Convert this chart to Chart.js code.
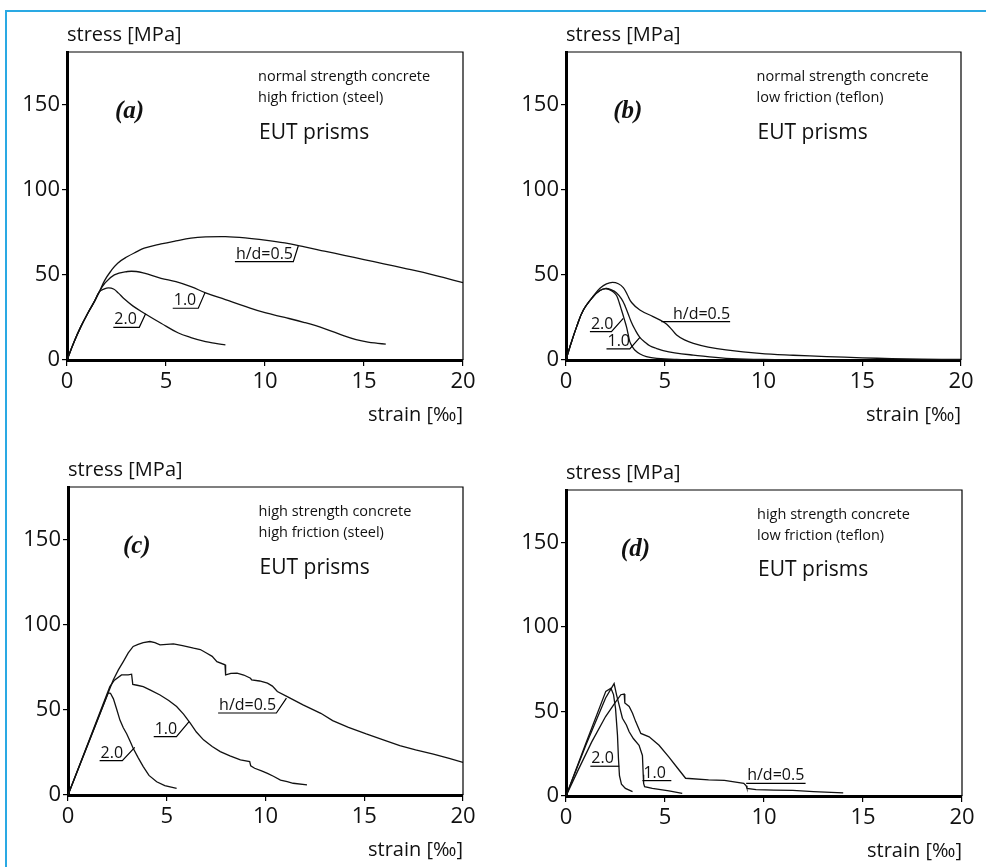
<!DOCTYPE html>
<html>
<head>
<meta charset="utf-8">
<script src="https://cdn.jsdelivr.net/npm/chart.js@4.4.1/dist/chart.umd.min.js"></script>
<style>
  body { margin: 0; background: #fff; }
  #page { position: relative; width: 986px; height: 867px; overflow: hidden; }
  #frame { position: absolute; left: 5px; top: 10px; width: 1000px; height: 900px;
           border-left: 2px solid #2aa9e3; border-top: 2px solid #2aa9e3; }
  canvas { position: absolute; }
</style>
</head>
<body>
<div id="page">
  <div id="frame"></div>
  <canvas id="chartA" width="493" height="434" style="left:0;top:0"></canvas>
  <canvas id="chartB" width="493" height="434" style="left:493px;top:0"></canvas>
  <canvas id="chartC" width="493" height="434" style="left:0;top:434px"></canvas>
  <canvas id="chartD" width="493" height="434" style="left:493px;top:434px"></canvas>
</div>
<script>
// axis ticks
const xTicks = [0, 5, 10, 15, 20];
const yTicks = [0, 50, 100, 150];

// (a) normal strength, high friction
const aStrain05 = [0, 0.35, 0.7, 1.05, 1.38, 1.63, 1.89, 2.2, 2.56, 3.06, 3.5, 3.9, 4.75, 5.5, 6.26, 7.0, 8.0, 9.0, 10.0, 11.0, 12.0, 13.0, 14.0, 15.0, 16.0, 17.0, 18.0, 19.0, 20.0];
const aStress05 = [0, 10.5, 19.6, 27.5, 34.3, 40, 46.5, 52, 56.9, 60.8, 63.5, 65.7, 68.2, 70, 71.6, 72.3, 72.5, 71.8, 70.5, 68.8, 66.5, 64, 61.5, 59, 56.5, 54, 51.5, 48.5, 45.5];
const aStrain10 = [0, 0.35, 0.7, 1.05, 1.38, 1.63, 1.89, 2.39, 3.06, 3.5, 3.9, 4.75, 5.5, 6.26, 7.0, 8.0, 9.0, 10.0, 11.0, 12.0, 13.0, 14.0, 14.6, 15.2, 15.7, 16.1];
const aStress10 = [0, 10.5, 19.6, 27.5, 34.3, 40, 44.8, 50, 52, 52, 51, 48, 46, 43.1, 39.5, 35.5, 31.5, 27.8, 25, 22, 18.5, 14.2, 12, 10.5, 9.8, 9.3];
const aStrain20 = [0, 0.35, 0.7, 1.05, 1.38, 1.63, 1.89, 2.1, 2.35, 2.6, 2.9, 3.32, 3.9, 4.75, 5.6, 6.26, 7.0, 7.5, 8.0];
const aStress20 = [0, 10.5, 19.6, 27.5, 34.3, 40, 41.8, 42.4, 41.7, 39.3, 35.8, 31.8, 27.5, 21.6, 16, 13.2, 10.8, 9.8, 8.9];

// (b) normal strength, low friction
const bStrain05 = [0, 0.2, 0.54, 0.88, 1.38, 1.72, 2.05, 2.35, 2.65, 2.9, 3.1, 3.32, 3.74, 4.41, 4.92, 5.1, 5.35, 5.6, 6.0, 6.45, 7.2, 8.1, 9.8, 11.5, 13.2, 15, 16.5, 18, 20];
const bStress05 = [0, 7.8, 19.6, 29.4, 37.5, 42.2, 44.7, 45.6, 44.8, 42.5, 38.5, 33.8, 29.4, 25.5, 22.5, 21, 18, 14.7, 11.8, 9.8, 7.6, 5.9, 3.9, 2.8, 2, 1.3, 0.8, 0.5, 0.3];
const bStrain10 = [0, 0.2, 0.54, 0.88, 1.38, 1.72, 2.0, 2.3, 2.55, 2.81, 3.0, 3.15, 3.3, 3.48, 3.74, 4.0, 4.24, 4.6, 4.92, 5.5, 6.44, 8.1, 10, 12];
const bStress10 = [0, 7.8, 19.6, 29.4, 37.3, 40.8, 42, 41.2, 39.5, 35.9, 31.5, 27, 22.5, 18.2, 13.3, 10.5, 8.4, 6.7, 5.5, 4.2, 2.9, 1, 0.3, 0];
const bStrain20 = [0, 0.2, 0.54, 0.88, 1.38, 1.72, 2.0, 2.22, 2.4, 2.56, 2.7, 2.81, 2.95, 3.06, 3.15, 3.23, 3.35, 3.48, 3.75, 4.07, 4.6, 5.6, 6.5];
const bStress20 = [0, 7.8, 19.6, 29.4, 37.3, 40.8, 42, 41.2, 40, 37.9, 33.5, 29.4, 24, 19.6, 15, 10.8, 8, 5.9, 3.5, 2, 1, 0.3, 0.1];

// (c) high strength, high friction
const cStrain05 = [0, 2.29, 2.55, 2.8, 3.05, 3.3, 3.55, 3.81, 4.15, 4.4, 4.66, 5.0, 5.34, 5.8, 6.36, 6.7, 7.03, 7.3, 7.54, 7.95, 7.98, 8.25, 8.56, 8.9, 9.24, 9.3, 9.7, 10.1, 10.35, 10.6, 11.1, 11.9, 12.8, 13.4, 14.2, 15.1, 16.0, 16.8, 17.6, 18.5, 19.3, 20];
const cStress05 = [0, 67.6, 73.5, 78.4, 83.5, 87.3, 88.5, 89.6, 90.2, 89.5, 88.2, 88.5, 88.8, 87.8, 86.3, 85.5, 83.3, 81.5, 78.4, 76.5, 70.6, 71.5, 71.6, 70.5, 68.6, 67.6, 67, 65.7, 64, 60.8, 57.8, 53, 48, 43.7, 39.8, 35.9, 32.3, 29, 26.5, 24, 21.5, 19.2];
const cStrain10 = [0, 2.12, 2.35, 2.71, 3.05, 3.22, 3.28, 3.5, 3.81, 4.2, 4.66, 5.1, 5.5, 5.85, 6.19, 6.5, 6.86, 7.3, 7.71, 8.2, 8.73, 9.2, 9.25, 9.45, 9.8, 10.1, 10.4, 10.76, 11.1, 11.4, 12.1];
const cStress10 = [0, 63.7, 67.5, 70.6, 70.6, 71, 65, 64.5, 63.7, 61.5, 58.8, 55.5, 52, 47.5, 42.2, 37, 32.4, 28.5, 25.5, 23, 20.6, 19.6, 17.2, 15.7, 14.2, 12.7, 11, 8.8, 7.8, 6.9, 5.9];
const cStrain20 = [0, 2.03, 2.15, 2.3, 2.45, 2.63, 2.8, 2.97, 3.15, 3.3, 3.55, 3.81, 4.1, 4.49, 4.9, 5.5];
const cStress20 = [0, 60, 59.8, 56.5, 51, 44, 39.5, 36, 31.5, 27.5, 22, 16.7, 11.5, 7.8, 5.5, 3.9];

// (d) high strength, low friction
const dStrain05 = [0, 0.6, 1.3, 2.0, 2.5, 2.77, 2.94, 2.97, 3.19, 3.36, 3.52, 3.78, 4.2, 4.7, 5.2, 5.6, 6.04, 7.2, 8.0, 8.98, 9.1, 9.14, 9.6, 10.5, 11.45, 12.5, 14.0];
const dStress05 = [0, 15, 32, 47, 55.5, 59.9, 60.3, 55, 53, 49, 44, 37, 35, 30, 23, 17, 10.5, 9.5, 9.2, 7.5, 6, 4.5, 3.8, 3.5, 3.3, 2.6, 1.8];
const dStrain10 = [0, 1.0, 2.0, 2.43, 2.55, 2.7, 2.85, 3.05, 3.19, 3.4, 3.69, 3.86, 3.9, 3.92, 3.97, 4.36, 5.2, 5.87];
const dStress10 = [0, 30, 58, 66.5, 60, 53, 46, 42, 38, 34, 30, 24, 12.5, 7.5, 5.5, 4.5, 3, 1.6];
const dStrain20 = [0, 1.0, 2.01, 2.27, 2.4, 2.5, 2.55, 2.6, 2.65, 2.7, 2.8, 3.0, 3.36];
const dStress20 = [0, 31, 61.9, 63.8, 60, 52, 44, 36, 22, 12, 7, 4.5, 2.6];

// curve labels: underline x0..x1 at y (data units), optional leader tip
const labelsA = [
  { text: "h/d=0.5", x0: 8.48, x1: 11.43, y: 57.8, tip: [11.68, 67] },
  { text: "1.0", x0: 5.34, x1: 6.63, y: 30.4, tip: [6.97, 39.6] },
  { text: "2.0", x0: 2.34, x1: 3.65, y: 19.2, tip: [3.97, 27.2] }
];
const labelsB = [
  { text: "h/d=0.5", x0: 4.83, x1: 8.31, y: 22.5, align: "right" },
  { text: "2.0", x0: 1.21, x1: 2.3, y: 16.7, tip: [2.9, 24.5] },
  { text: "1.0", x0: 2.05, x1: 3.23, y: 6.5, tip: [3.74, 13.3] }
];
const labelsC = [
  { text: "h/d=0.5", x0: 7.6, x1: 10.55, y: 48.2, tip: [11.06, 56.9] },
  { text: "1.0", x0: 4.34, x1: 5.49, y: 34.3, tip: [6.13, 43.1] },
  { text: "2.0", x0: 1.6, x1: 2.75, y: 20.2, tip: [3.38, 28] }
];
const labelsD = [
  { text: "2.0", x0: 1.23, x1: 2.69, y: 17.6 },
  { text: "1.0", x0: 3.86, x1: 5.32, y: 9.1 },
  { text: "h/d=0.5", x0: 9.1, x1: 12.1, y: 7.5 }
];

const FONT = '"Open Sans", "DejaVu Sans", sans-serif';

function pts(xs, ys) {
  return xs.map((x, i) => ({ x, y: ys[i] }));
}

const decor = {
  id: "decor",
  afterDraw(chart, args, o) {
    const { ctx, chartArea: ca, scales: { x, y } } = chart;
    const px = v => x.getPixelForValue(v);
    const py = v => y.getPixelForValue(v);
    ctx.save();
    ctx.strokeStyle = "#000";
    ctx.lineWidth = 1.2;
    ctx.beginPath();
    ctx.moveTo(ca.left, ca.top);
    ctx.lineTo(ca.right, ca.top);
    ctx.lineTo(ca.right, ca.bottom);
    ctx.stroke();

    ctx.fillStyle = "#111";
    ctx.textBaseline = "middle";
    ctx.font = `20px ${FONT}`;
    ctx.textAlign = "left";
    ctx.fillText("stress [MPa]", ca.left, ca.top - 17);
    ctx.textAlign = "right";
    ctx.fillText("strain [‰]", ca.right, ca.bottom + 55);

    ctx.textAlign = "left";
    ctx.font = `italic bold 25px "Liberation Serif", serif`;
    ctx.fillText(o.letter, px(o.letterX), py(146));

    ctx.font = `14.5px ${FONT}`;
    ctx.fillText(o.notes[0], px(9.65), py(166.5));
    ctx.fillText(o.notes[1], px(9.65), py(154));
    ctx.font = `21px ${FONT}`;
    ctx.fillText("EUT prisms", px(9.7), py(133.5));

    ctx.font = `16px ${FONT}`;
    ctx.textBaseline = "alphabetic";
    ctx.lineWidth = 1.2;
    o.labels.forEach(l => {
      const ly = py(l.y);
      ctx.beginPath();
      ctx.moveTo(px(l.x0), ly);
      ctx.lineTo(px(l.x1), ly);
      if (l.tip) ctx.lineTo(px(l.tip[0]), py(l.tip[1]));
      ctx.stroke();
      if (l.align === "right") {
        ctx.textAlign = "right";
        ctx.fillText(l.text, px(l.x1), ly - 3);
      } else {
        ctx.textAlign = "left";
        ctx.fillText(l.text, px(l.x0) + 1, ly - 3);
      }
    });
    ctx.restore();
  }
};

function makeChart(id, series, box, deco, tension) {
  const datasets = series.map(([xs, ys]) => ({
    data: pts(xs, ys),
    borderColor: "#111",
    borderWidth: 1.3,
    pointRadius: 0,
    tension: tension,
    fill: false
  }));
  return new Chart(document.getElementById(id), {
    type: "line",
    data: { datasets },
    plugins: [decor],
    options: {
      responsive: false,
      animation: false,
      devicePixelRatio: 1,
      layout: { padding: { left: 0, top: box.top, right: 493 - box.right, bottom: 0 } },
      plugins: { legend: { display: false }, tooltip: { enabled: false }, decor: deco },
      scales: {
        x: {
          type: "linear", min: 0, max: 20,
          afterFit: s => { s.height = 434 - box.bottom; },
          afterBuildTicks: s => { s.ticks = xTicks.map(v => ({ value: v })); },
          border: { display: true, width: 3, color: "#000" },
          grid: { drawOnChartArea: false, drawTicks: true, tickLength: 6, color: "#000", lineWidth: 1.2 },
          ticks: { color: "#111", font: { family: FONT, size: 22 }, padding: 3, maxRotation: 0 }
        },
        y: {
          type: "linear", min: 0, max: 181,
          afterFit: s => { s.width = box.left; },
          afterBuildTicks: s => { s.ticks = yTicks.map(v => ({ value: v })); },
          border: { display: true, width: 3, color: "#000" },
          grid: { drawOnChartArea: false, drawTicks: true, tickLength: 5, color: "#000", lineWidth: 1.2 },
          ticks: { color: "#111", font: { family: FONT, size: 22 }, padding: 2 }
        }
      }
    }
  });
}

makeChart("chartA",
  [[aStrain05, aStress05], [aStrain10, aStress10], [aStrain20, aStress20]],
  { left: 67, right: 463, top: 52, bottom: 360 },
  { letter: "(a)", letterX: 2.42, notes: ["normal strength concrete", "high friction (steel)"], labels: labelsA }, 0.4);

makeChart("chartB",
  [[bStrain05, bStress05], [bStrain10, bStress10], [bStrain20, bStress20]],
  { left: 73, right: 468, top: 52, bottom: 360 },
  { letter: "(b)", letterX: 2.39, notes: ["normal strength concrete", "low friction (teflon)"], labels: labelsB }, 0.4);

makeChart("chartC",
  [[cStrain05, cStress05], [cStrain10, cStress10], [cStrain20, cStress20]],
  { left: 68, right: 463, top: 53, bottom: 361 },
  { letter: "(c)", letterX: 2.78, notes: ["high strength concrete", "high friction (steel)"], labels: labelsC }, 0);

makeChart("chartD",
  [[dStrain05, dStress05], [dStrain10, dStress10], [dStrain20, dStress20]],
  { left: 73, right: 469, top: 56, bottom: 362 },
  { letter: "(d)", letterX: 2.77, notes: ["high strength concrete", "low friction (teflon)"], labels: labelsD }, 0);
</script>
</body>
</html>
